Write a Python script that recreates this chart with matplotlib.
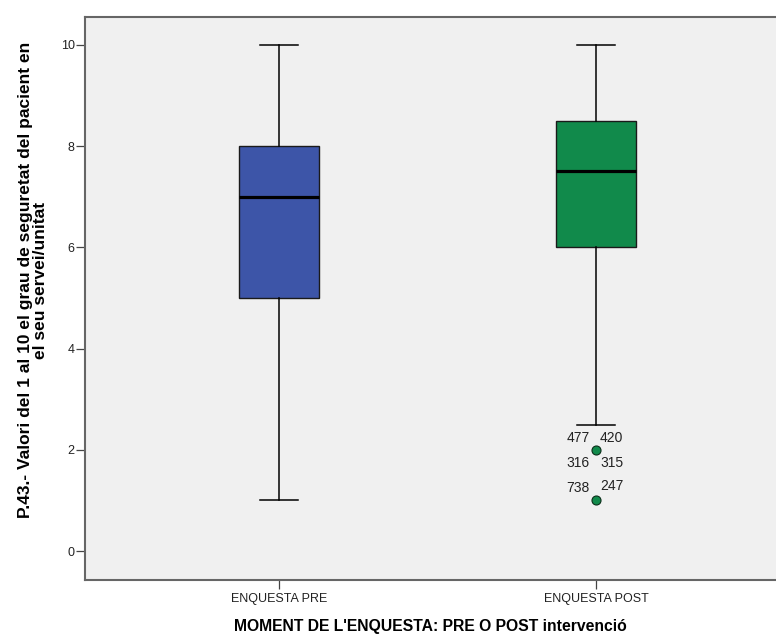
import matplotlib
matplotlib.use("Agg")
import matplotlib.pyplot as plt

plt.rcParams['font.family'] = ['Liberation Sans', 'DejaVu Sans']

categories = ["ENQUESTA PRE", "ENQUESTA POST"]
whisker_low = [1, 2.5]
q1 = [5, 6]
medians = [7, 7.5]
q3 = [8, 8.5]
whisker_high = [10, 10]
outliers = [[], [2, 1]]
# (left label, right label, left label y, right label y)
outlier_texts = [[], [("477", "420", 2.237, 2.237),
                      ("316", "315", 1.743, 1.743),
                      ("738", "247", 1.249, 1.289)]]
box_colors = ["#3D55A8", "#118A4B"]
yticks = [0, 2, 4, 6, 8, 10]

W, H = 776, 637
fig = plt.figure(figsize=(W/100, H/100), dpi=100)
ax = fig.add_axes([85/W, (H-580)/H, (W-85)/W, (580-16.5)/H])
ax.set_facecolor("#F0F0F0")

stats = []
for i, c in enumerate(categories):
    stats.append(dict(label=c, whislo=whisker_low[i], q1=q1[i], med=medians[i],
                      q3=q3[i], whishi=whisker_high[i], fliers=outliers[i]))

positions = [1, 2]
bp = ax.bxp(stats, positions=positions, widths=0.255, patch_artist=True,
            showfliers=True,
            boxprops=dict(edgecolor="#1a1a1a", linewidth=1.0),
            medianprops=dict(color="black", linewidth=2.3),
            whiskerprops=dict(color="black", linewidth=1.1),
            capprops=dict(color="black", linewidth=1.1),
            flierprops=dict(marker="o", markerfacecolor="#118A4B",
                            markeredgecolor="#0B2E1A", markersize=6.5,
                            markeredgewidth=0.8, linestyle="none"))
for patch, col in zip(bp['boxes'], box_colors):
    patch.set_facecolor(col)
for cap in bp['caps']:
    xd = cap.get_xdata()
    mid = (xd[0] + xd[1]) / 2
    cap.set_xdata([mid - 0.0615, mid + 0.0615])

# outlier case labels
for i, pos in enumerate(positions):
    for lt, rt, ly, ry in outlier_texts[i]:
        ax.text(pos - 0.019, ly, lt, ha="right", va="center", fontsize=10, color="#222222")
        ax.text(pos + 0.013, ry, rt, ha="left", va="center", fontsize=10, color="#222222")

ax.set_xlim(1 - 194/317, 2 + 180/317)
ax.set_ylim(-0.573, 10.563)
ax.set_yticks(yticks)
ax.set_yticklabels([str(t) for t in yticks], fontsize=9, color="#222222")
ax.set_xticks(positions)
ax.set_xticklabels(categories, fontsize=9, color="#222222")
ax.tick_params(axis="both", direction="out", length=6.5, width=0.9, color="#444444")
ax.tick_params(axis="y", pad=1)
ax.tick_params(axis="x", pad=3)
for s in ax.spines.values():
    s.set_color("#666666")
    s.set_linewidth(1.5)
ax.spines["right"].set_visible(False)

fig.text(33/W, 1 - 280/H,
         "P.43.- Valori del 1 al 10 el grau de seguretat del pacient en\nel seu servei/unitat",
         rotation=90, ha="center", va="center", multialignment="center",
         fontsize=12.5, fontweight="bold", linespacing=0.95, color="black")
fig.text((85 + 776) / 2 / W, 1 - 627/H, "MOMENT DE L'ENQUESTA: PRE O POST intervenció",
         ha="center", va="center", fontsize=11.3, fontweight="bold", color="black")

fig.savefig("out.png", dpi=100, facecolor="white")
